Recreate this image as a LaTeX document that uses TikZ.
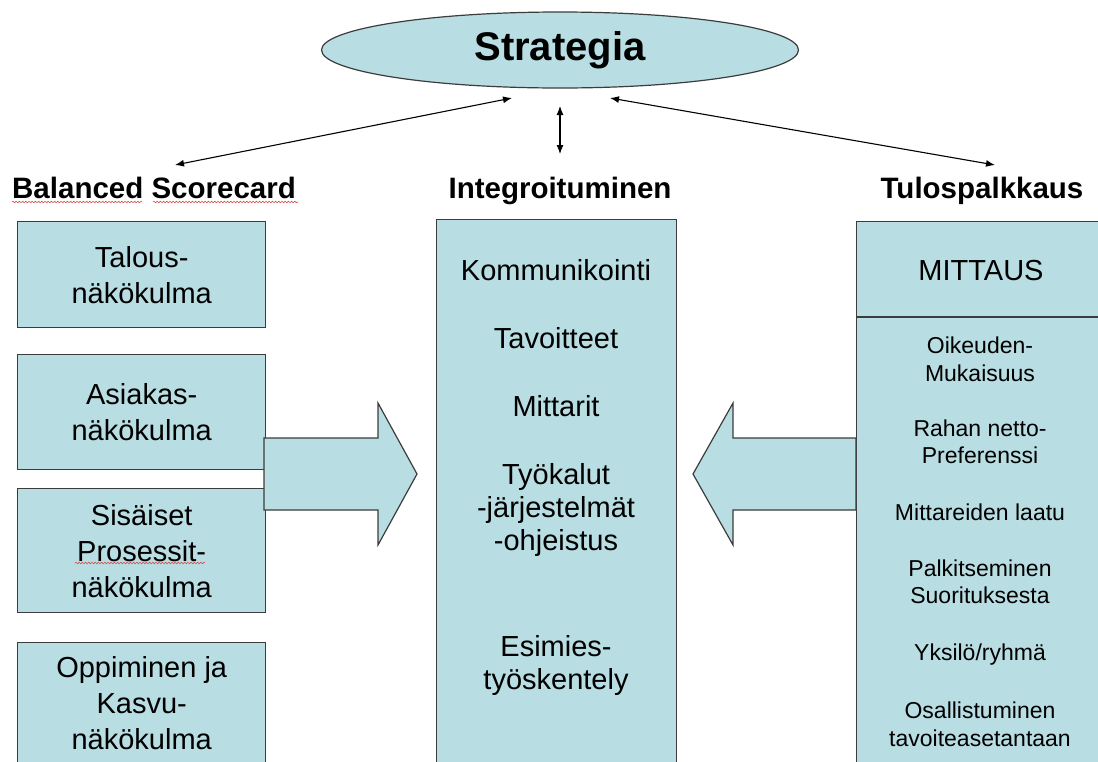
\documentclass[tikz,border=0pt]{standalone}
\usepackage{fontspec}
\setmainfont{Liberation Sans}
\usetikzlibrary{arrows.meta,shapes.geometric,decorations.pathmorphing}
\definecolor{panel}{RGB}{184,221,226}
\definecolor{edge}{RGB}{60,60,60}
\definecolor{spellred}{RGB}{215,80,80}
\begin{document}
\begin{tikzpicture}[x=1pt,y=-1pt,
  box/.style={draw=edge, line width=1.4pt, fill=panel, inner sep=0pt, align=center,
              font=\fontsize{29}{36}\selectfont, anchor=north west},
  hdr/.style={anchor=base, inner sep=0pt, font=\bfseries\fontsize{29.5}{34}\selectfont},
  midtxt/.style={anchor=base, inner sep=0pt, font=\fontsize{29}{34}\selectfont},
  rtxt/.style={anchor=base, inner sep=0pt, font=\fontsize{23}{27}\selectfont},
  link/.style={{Latex[length=9pt,width=7pt]}-{Latex[length=9pt,width=7pt]}, line width=1.1pt, black},
  bigarrow/.style={draw=edge, line width=1.2pt, fill=panel, line join=miter},
  spell/.style={draw=spellred, line width=0.6pt, decorate,
                decoration={snake, amplitude=0.8pt, segment length=3.2pt}}
]
\useasboundingbox (0,0) rectangle (1098,761);
\clip (0,0) rectangle (1098,761);

% strategy ellipse
\node[ellipse, draw=edge, line width=1.2pt, fill=panel, minimum width=477pt, minimum height=76pt,
      inner sep=0pt, font=\bfseries\fontsize{40}{48}\selectfont] (strat) at (560,50) {Strategia};

% column headers
\node[hdr, anchor=base west] (hBSC) at (12,198) {Balanced Scorecard};
\node[hdr] (hInt) at (560,198) {Integroituminen};
\node[hdr] (hTul) at (982,198) {Tulospalkkaus};

% spell-check marks
\draw[spell] (12,202) -- (142,202);
\draw[spell] (153,202) -- (298,202);

% links to the strategy
\coordinate (sL) at (512,98);
\coordinate (eL) at (175,165);
\coordinate (sR) at (610,98);
\coordinate (eR) at (995,165);
\coordinate (sM) at (560,106);
\coordinate (eM) at (560,154);
\draw[link] (eL) -- (sL);
\draw[link] (eR) -- (sR);
\draw[link] (sM) -- (eM);

% balanced scorecard perspectives
\node[box, minimum width=248pt, minimum height=106pt] (b1) at (17,221) {Talous-\\näkökulma};
\node[box, minimum width=248pt, minimum height=115pt] (b2) at (17,354) {Asiakas-\\näkökulma};
\node[box, minimum width=248pt, minimum height=124pt] (b3) at (17,488) {Sisäiset\\Prosessit-\\näkökulma};
\node[box, minimum width=248pt, minimum height=121pt] (b4) at (17,642) {Oppiminen ja\\Kasvu-\\näkökulma};
\draw[spell] (75,563) -- (205,563);

% integration column
\node[box, minimum width=240pt, minimum height=600pt] (mid) at (436,219) {};
\node[midtxt] (m1) at (556,280) {Kommunikointi};
\node[midtxt] (m2) at (556,348) {Tavoitteet};
\node[midtxt] (m3) at (556,416) {Mittarit};
\node[midtxt] (m4) at (556,484) {Työkalut};
\node[midtxt] (m5) at (556,517) {-järjestelmät};
\node[midtxt] (m6) at (556,550) {-ohjeistus};
\node[midtxt] (m7) at (556,656) {Esimies-};
\node[midtxt] (m8) at (556,689) {työskentely};

% performance pay column
\node[box, minimum width=260pt, minimum height=600pt] (pay) at (856,221) {};
\coordinate (divL) at (856,317);
\coordinate (divR) at (1120,317);
\draw[draw=edge, line width=1.4pt] (divL) -- (divR);
\node[midtxt] (mitt) at (981,280) {MITTAUS};
\node[rtxt] (r1) at (980,353) {Oikeuden-};
\node[rtxt] (r2) at (980,381) {Mukaisuus};
\node[rtxt] (r3) at (980,436) {Rahan netto-};
\node[rtxt] (r4) at (980,463) {Preferenssi};
\node[rtxt] (r5) at (980,520) {Mittareiden laatu};
\node[rtxt] (r6) at (980,576) {Palkitseminen};
\node[rtxt] (r7) at (980,603) {Suorituksesta};
\node[rtxt] (r8) at (980,660) {Yksilö/ryhmä};
\node[rtxt] (r9) at (980,718) {Osallistuminen};
\node[rtxt] (r10) at (980,746) {tavoiteasetantaan};

% block arrows into the integration column
\draw[bigarrow] (264,438) -- (378,438) -- (378,403) -- (417,474) -- (378,545) -- (378,510) -- (264,510) -- cycle;
\draw[bigarrow] (856,438) -- (733,438) -- (733,403) -- (693,474) -- (733,545) -- (733,510) -- (856,510) -- cycle;
\end{tikzpicture}
\end{document}
